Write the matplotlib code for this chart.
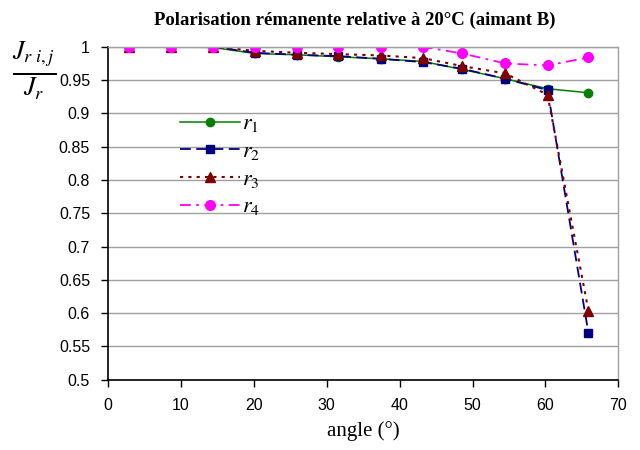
import matplotlib
matplotlib.use("Agg")
import matplotlib.pyplot as plt

angles = [2.9, 8.6, 14.4, 20.1, 25.9, 31.6, 37.4, 43.2, 48.6, 54.5, 60.3, 65.9]
r1 = [1.000, 1.000, 0.999, 0.990, 0.988, 0.985, 0.982, 0.978, 0.966, 0.952, 0.937, 0.931]
r2 = [1.000, 1.000, 1.000, 0.991, 0.988, 0.986, 0.982, 0.977, 0.967, 0.952, 0.935, 0.571]
r3 = [1.000, 1.000, 1.000, 0.994, 0.991, 0.989, 0.987, 0.983, 0.971, 0.960, 0.928, 0.604]
r4 = [1.000, 1.000, 1.000, 1.000, 1.000, 1.000, 1.000, 1.000, 0.990, 0.975, 0.972, 0.984]
series_labels = [r"$r_\mathit{1}$", r"$r_\mathit{2}$", r"$r_\mathit{3}$", r"$r_\mathit{4}$"]
x_ticks = [0, 10, 20, 30, 40, 50, 60, 70]
y_ticks = [0.5, 0.55, 0.6, 0.65, 0.7, 0.75, 0.8, 0.85, 0.9, 0.95, 1.0]

plt.rcParams["mathtext.fontset"] = "stix"

fig = plt.figure(figsize=(6.4, 4.5), dpi=100)
ax = fig.add_axes([0.169, 0.156, 0.797, 0.740])

styles = [
    dict(color="#008000", ls="-", marker="o", ms=6, lw=1.1),
    dict(color="#000080", ls=(0, (6, 3)), marker="s", ms=6, lw=1.3),
    dict(color="#800000", ls=(0, (1.5, 2.5)), marker="^", ms=7, lw=1.5),
    dict(color="#FF00FF", ls=(0, (6, 3, 1.5, 3)), marker="o", ms=7, lw=1.3),
]
for ys, lab, st in zip([r1, r2, r3, r4], series_labels, styles):
    ax.plot(angles, ys, label=lab, color=st["color"], linestyle=st["ls"],
            linewidth=st["lw"], marker=st["marker"], markersize=st["ms"],
            markerfacecolor=st["color"], markeredgecolor=st["color"])

ax.set_xlim(0, 70)
ax.set_ylim(0.5, 1.0)
ax.set_xticks(x_ticks)
ax.set_yticks(y_ticks)
ax.set_yticklabels([("%g" % v) for v in y_ticks])
ax.yaxis.grid(True, color="#a0a0a0", linewidth=1.0)
ax.set_axisbelow(True)
for side in ("left", "bottom"):
    ax.spines[side].set_color("black")
    ax.spines[side].set_linewidth(1.2)
for side in ("top", "right"):
    ax.spines[side].set_color("#a0a0a0")
    ax.spines[side].set_linewidth(1.0)
ax.tick_params(direction="out", length=5, width=1, labelsize=11.5, pad=8)
for t in ax.get_xticklabels() + ax.get_yticklabels():
    t.set_fontfamily("Liberation Sans")

ax.set_xlabel("angle (°)", fontfamily="Liberation Serif", fontsize=15, labelpad=6)
fig.text(0.555, 0.955, "Polarisation rémanente relative à 20°C (aimant B)",
         ha="center", va="center", fontfamily="Liberation Serif",
         fontweight="bold", fontsize=13.5)
fig.text(0.053, 0.843, r"$\frac{J_{r\ i,j}}{J_r}$", ha="center", va="center",
         fontsize=27)

leg = ax.legend(loc="upper left", bbox_to_anchor=(0.141, 0.80), frameon=False,
                handlelength=2.7, handletextpad=0.1, labelspacing=0.3,
                borderpad=0, borderaxespad=0, fontsize=16)

fig.savefig("out.png", dpi=100)
